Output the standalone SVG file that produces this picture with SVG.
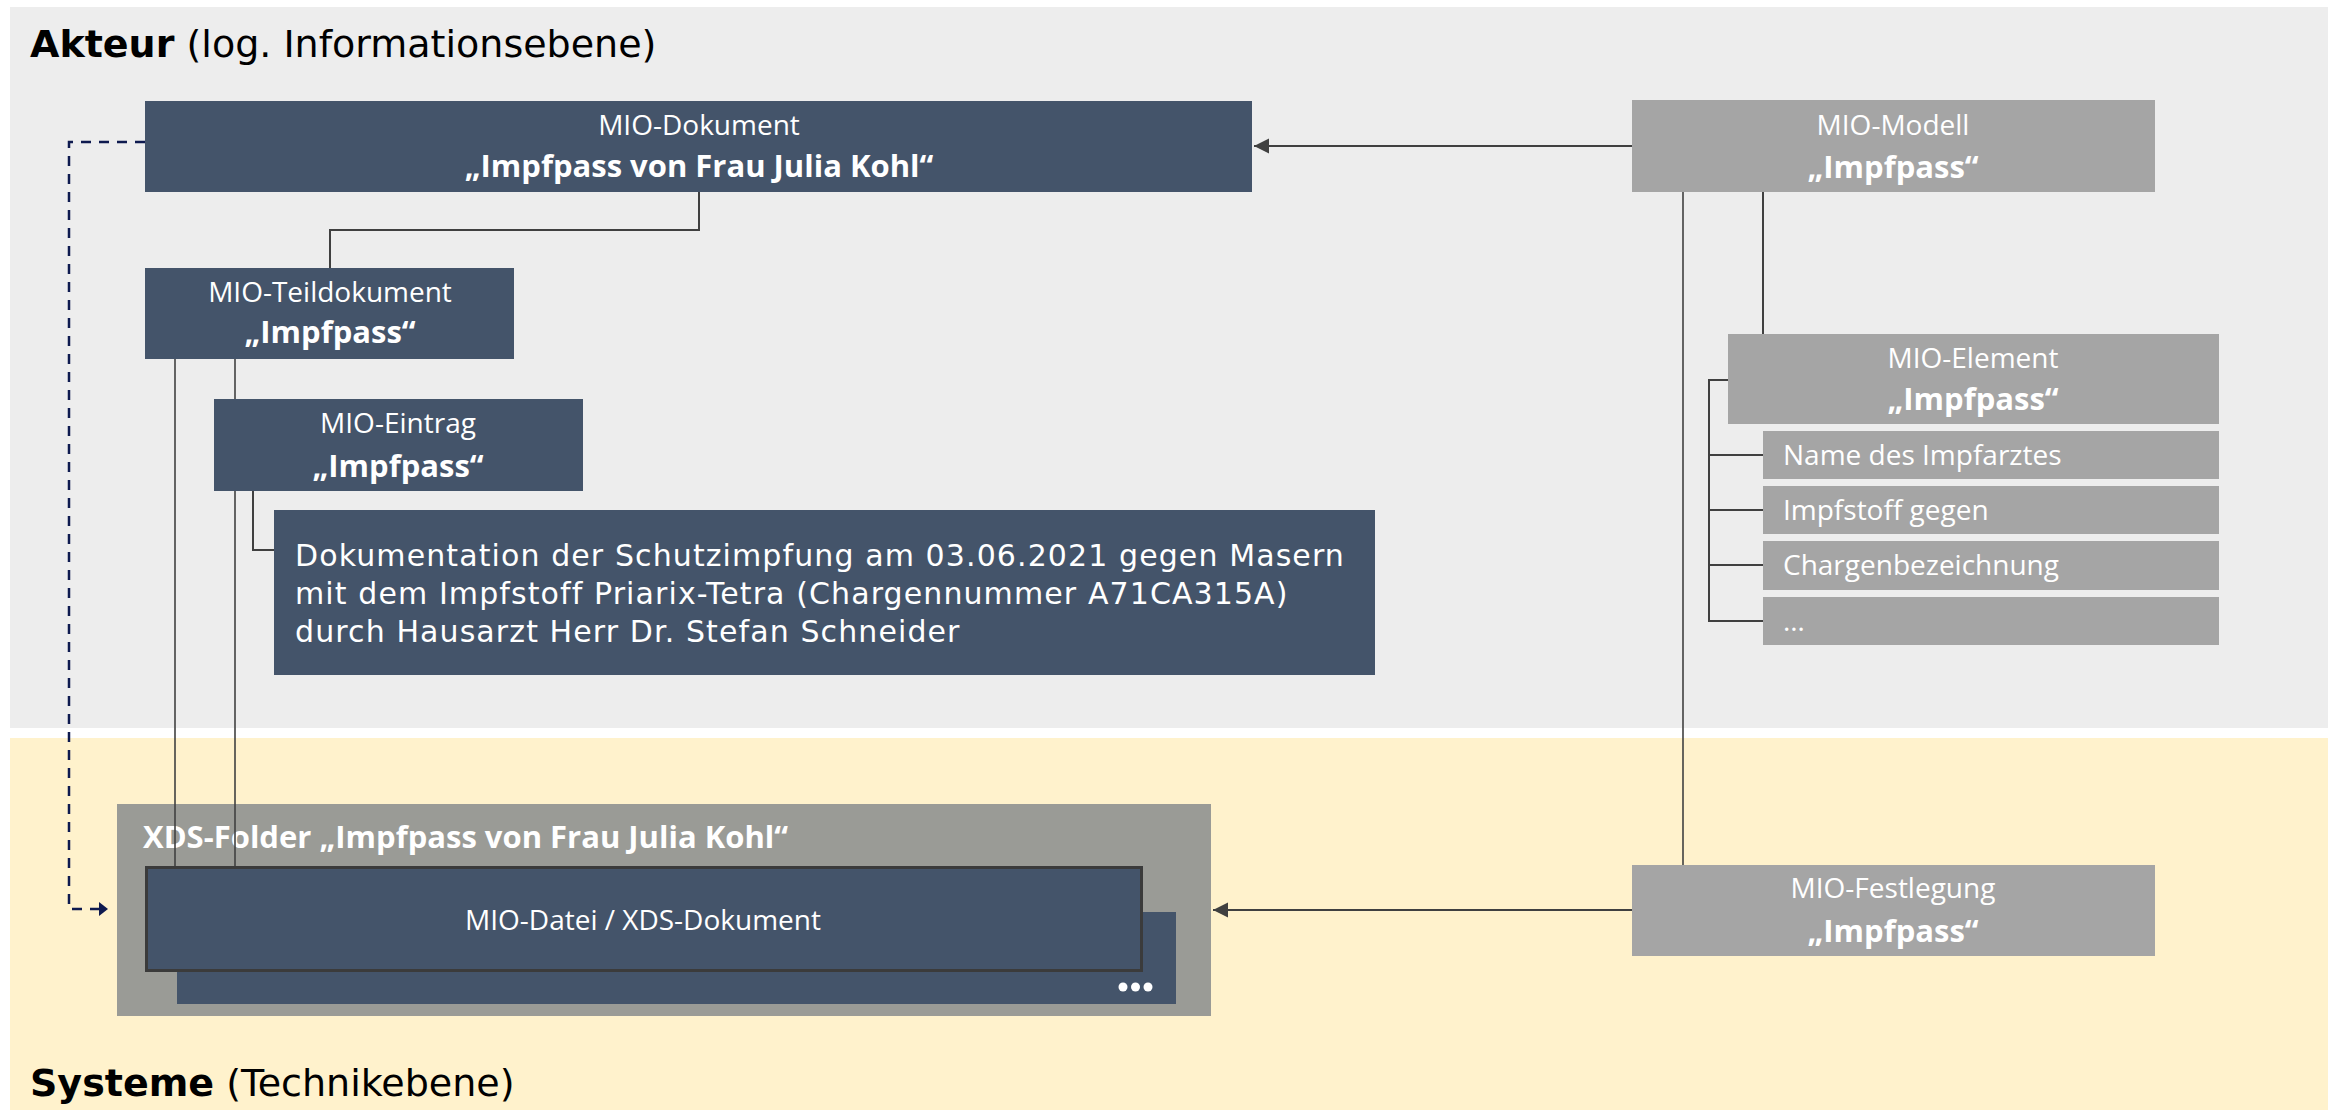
<svg xmlns="http://www.w3.org/2000/svg" width="2336" height="1110" viewBox="0 0 2336 1110">
<style>
.dark{fill:#44546a}
.gray{fill:#a5a5a5}
.lbl{font-family:"Open Sans","Noto Sans",sans-serif;font-size:28px;fill:#fff;text-anchor:middle}
.bld{font-family:"Open Sans","Noto Sans",sans-serif;font-size:31px;font-weight:bold;fill:#fff;text-anchor:middle}
.item{font-family:"Open Sans","Noto Sans",sans-serif;font-size:28px;fill:#fff}
.title{font-family:"DejaVu Sans",Verdana,sans-serif;font-size:38px;fill:#000}
.desc{font-family:"DejaVu Sans",Verdana,sans-serif;font-size:30px;fill:#fff;letter-spacing:1.1px}
.ln{fill:none;stroke:#404040;stroke-width:2}
.lt{fill:none;stroke:#404040;stroke-width:1.6}
.dash{fill:none;stroke:#0e1a4f;stroke-width:2.5;stroke-dasharray:10 8}
</style>
<defs>
<marker id="ah" markerWidth="16" markerHeight="16" refX="15" refY="8" orient="auto" markerUnits="userSpaceOnUse">
<path d="M0,0.5 L15,8 L0,15.5 Z" fill="#404040"/>
</marker>
<marker id="ahn" markerWidth="10" markerHeight="14" refX="9" refY="7" orient="auto" markerUnits="userSpaceOnUse">
<path d="M0,0 L9,7 L0,14 Z" fill="#0e1a4f"/>
</marker>
</defs>

<g id="layers">
<rect x="10" y="7" width="2318" height="721" fill="#ededed"/>
<rect x="10" y="738" width="2318" height="372" fill="#fff2cc"/>
<text class="title" x="30" y="57"><tspan font-weight="bold">Akteur</tspan> (log. Informationsebene)</text>
<text class="title" x="30" y="1096"><tspan font-weight="bold">Systeme</tspan> (Technikebene)</text>
</g>

<g id="xds-folder">
<rect x="117" y="804" width="1094" height="212" fill="#9a9b96"/>
<text class="bld" x="143" y="848" style="text-anchor:start">XDS-Folder „Impfpass von Frau Julia Kohl“</text>
</g>

<g id="connectors">
<path class="ln" d="M699,192 V230 H330 V268"/>
<path class="lt" d="M175,359 V867"/>
<path class="lt" d="M235,359 V399"/>
<path class="lt" d="M235,491 V867"/>
<path class="ln" d="M253,491 V550 H274"/>
<path class="lt" d="M1683,192 V865"/>
<path class="ln" d="M1763,192 V334"/>
<path class="ln" d="M1728,380 H1709 V621 H1763 M1709,455 H1763 M1709,510 H1763 M1709,565 H1763"/>
<path class="ln" d="M1632,146 H1254" marker-end="url(#ah)"/>
<path class="ln" d="M1632,910 H1213" marker-end="url(#ah)"/>
<path class="dash" d="M145,142 H69 V909 H108" marker-end="url(#ahn)"/>
</g>

<g id="mio-dokument">
<rect class="dark" x="145" y="101" width="1107" height="91"/>
<text class="lbl" x="699" y="135">MIO-Dokument</text>
<text class="bld" x="699" y="177">„Impfpass von Frau Julia Kohl“</text>
</g>

<g id="mio-teildokument">
<rect class="dark" x="145" y="268" width="369" height="91"/>
<text class="lbl" x="330" y="302">MIO-Teildokument</text>
<text class="bld" x="330" y="343">„Impfpass“</text>
</g>

<g id="mio-eintrag">
<rect class="dark" x="214" y="399" width="369" height="92"/>
<text class="lbl" x="398" y="433">MIO-Eintrag</text>
<text class="bld" x="398" y="477">„Impfpass“</text>
</g>

<g id="beschreibung">
<rect class="dark" x="274" y="510" width="1101" height="165"/>
<text class="desc" x="295" y="566">Dokumentation der Schutzimpfung am 03.06.2021 gegen Masern</text>
<text class="desc" x="295" y="604">mit dem Impfstoff Priarix-Tetra (Chargennummer A71CA315A)</text>
<text class="desc" x="295" y="642">durch Hausarzt Herr Dr. Stefan Schneider</text>
</g>

<g id="mio-modell">
<rect class="gray" x="1632" y="100" width="523" height="92"/>
<text class="lbl" x="1893" y="135">MIO-Modell</text>
<text class="bld" x="1893" y="178">„Impfpass“</text>
</g>

<g id="mio-element">
<rect class="gray" x="1728" y="334" width="491" height="90"/>
<text class="lbl" x="1973" y="368">MIO-Element</text>
<text class="bld" x="1973" y="410">„Impfpass“</text>
</g>

<g id="element-items">
<rect class="gray" x="1763" y="431" width="456" height="48"/>
<text class="item" x="1783" y="465">Name des Impfarztes</text>
<rect class="gray" x="1763" y="486" width="456" height="48"/>
<text class="item" x="1783" y="520">Impfstoff gegen</text>
<rect class="gray" x="1763" y="541" width="456" height="49"/>
<text class="item" x="1783" y="575">Chargenbezeichnung</text>
<rect class="gray" x="1763" y="597" width="456" height="48"/>
<text class="item" x="1783" y="631">…</text>
</g>

<g id="mio-festlegung">
<rect class="gray" x="1632" y="865" width="523" height="91"/>
<text class="lbl" x="1893" y="898">MIO-Festlegung</text>
<text class="bld" x="1893" y="942">„Impfpass“</text>
</g>

<g id="xds-dokument">
<rect class="dark" x="177" y="912" width="999" height="92"/>
<circle cx="1123" cy="987" r="4.5" fill="#fff"/>
<circle cx="1135.5" cy="987" r="4.5" fill="#fff"/>
<circle cx="1148" cy="987" r="4.5" fill="#fff"/>
<rect class="dark" x="146.5" y="867.5" width="995" height="103" stroke="#3b3b3b" stroke-width="3"/>
<text class="lbl" x="643" y="930">MIO-Datei / XDS-Dokument</text>
</g>
</svg>
